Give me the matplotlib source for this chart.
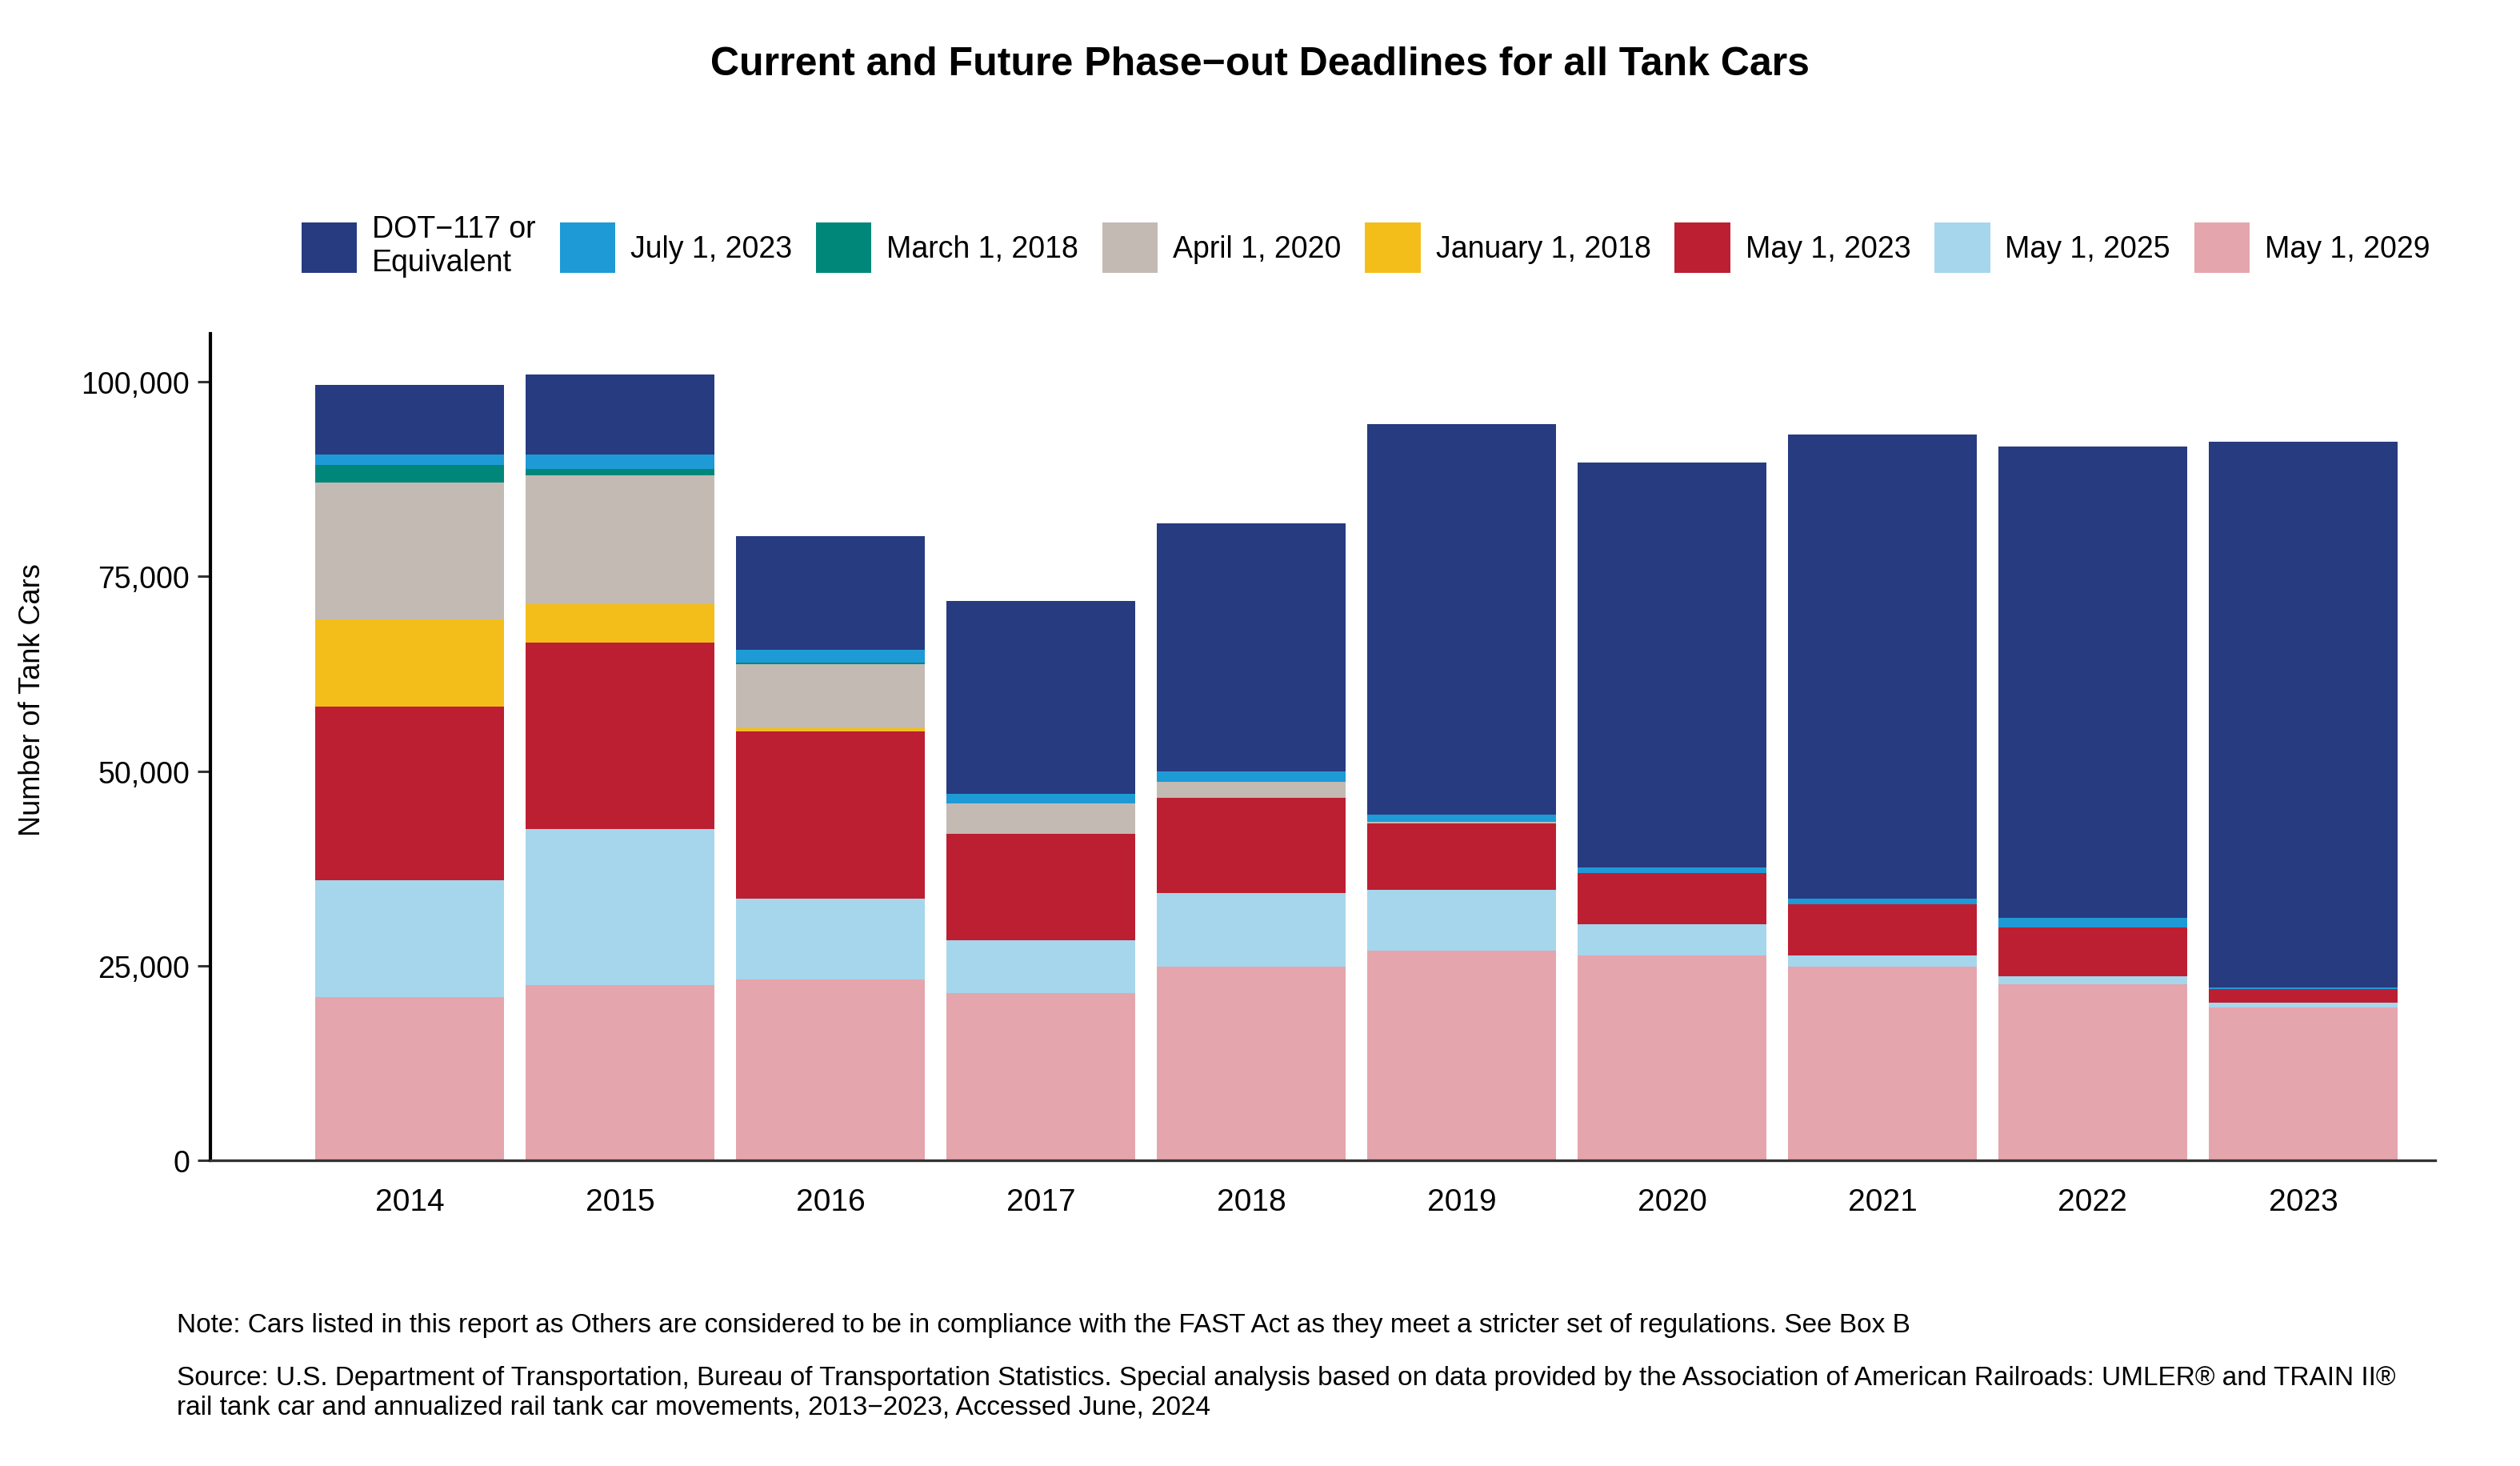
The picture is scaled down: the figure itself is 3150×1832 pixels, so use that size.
import numpy as np
import matplotlib
matplotlib.use("Agg")
import matplotlib.pyplot as plt

plt.rcParams["font.family"] = ["Liberation Sans", "DejaVu Sans"]

years = ["2014", "2015", "2016", "2017", "2018", "2019", "2020", "2021", "2022", "2023"]

# segment counts per deadline, bottom of the stack first
may_2029 = [20970, 22480, 23200, 21470, 24930, 26950, 26370, 24930, 22620, 19670]
may_2025 = [14980, 20100, 10380, 6770, 9440, 7780, 3960, 1370, 1080, 580]
may_2023 = [22340, 23990, 21540, 13760, 12250, 8570, 6560, 6630, 6200, 1800]
jan_2018 = [11170, 4900, 360, 0, 0, 0, 0, 0, 0, 0]
apr_2020 = [17650, 16500, 8280, 3900, 2010, 220, 0, 0, 0, 0]
mar_2018 = [2230, 870, 220, 0, 0, 0, 0, 0, 0, 0]
jul_2023 = [1370, 1870, 1660, 1150, 1370, 940, 720, 720, 1230, 210]
dot_117 = [8940, 10230, 14550, 24800, 31850, 50090, 52020, 59580, 60520, 70040]

series = [
    ("May 1, 2029", may_2029, "#E5A5AC"),
    ("May 1, 2025", may_2025, "#A6D6EC"),
    ("May 1, 2023", may_2023, "#BC1F32"),
    ("January 1, 2018", jan_2018, "#F4BE1A"),
    ("April 1, 2020", apr_2020, "#C3BAB3"),
    ("March 1, 2018", mar_2018, "#00877A"),
    ("July 1, 2023", jul_2023, "#1E9AD6"),
    ("DOT\u2212117 or\nEquivalent", dot_117, "#273B80"),
]

fig = plt.figure(figsize=(15.75, 9.165), dpi=200)
ax = fig.add_axes([0.0835, 0.2083, 0.8827, 0.5637])

x = np.arange(len(years))
bottom = np.zeros(len(years))
handles = []
for label, vals, color in series:
    vals = np.array(vals, dtype=float)
    h = ax.bar(x, vals, width=0.9, bottom=bottom, color=color, linewidth=0, label=label)
    handles.append(h)
    bottom += vals

ax.set_xlim(-0.947, 9.626)
ax.set_ylim(0, 106200)
ax.set_xticks(x)
ax.set_xticklabels(years)
ax.set_yticks([0, 25000, 50000, 75000, 100000])
ax.set_yticklabels(["0", "25,000", "50,000", "75,000", "100,000"])
ax.tick_params(axis="x", length=0, pad=12, labelsize=14)
ax.tick_params(axis="y", length=5.8, width=1.1, color="#333333", pad=3.5, labelsize=13.5)

for side in ["top", "right"]:
    ax.spines[side].set_visible(False)
ax.spines["left"].set_linewidth(1.5)
ax.spines["left"].set_color("black")
ax.spines["bottom"].set_linewidth(1.2)
ax.spines["bottom"].set_color("#333333")

fig.text(0.0128, 0.523, "Number of Tank Cars", rotation=90, ha="center", va="center", fontsize=13)

fig.text(0.5, 0.956, "Current and Future Phase\u2212out Deadlines for all Tank Cars",
         ha="center", va="center", fontsize=18, fontweight="bold")

fig.legend(handles=handles[::-1], loc="center", bbox_to_anchor=(0.542, 0.832), ncol=8,
           frameon=False, fontsize=13.5, handlelength=1.85, handleheight=2.2,
           handletextpad=0.5, columnspacing=0.8)

fig.text(0.0702, 0.0965,
         "Note: Cars listed in this report as Others are considered to be in compliance with the "
         "FAST Act as they meet a stricter set of regulations. See Box B",
         ha="left", va="center", fontsize=12)
fig.text(0.0702, 0.0603,
         "Source: U.S. Department of Transportation, Bureau of Transportation Statistics. Special "
         "analysis based on data provided by the Association of American Railroads: UMLER\u00ae and TRAIN II\u00ae",
         ha="left", va="center", fontsize=12)
fig.text(0.0702, 0.0406,
         "rail tank car and annualized rail tank car movements, 2013\u22122023, Accessed June, 2024",
         ha="left", va="center", fontsize=12)

fig.savefig("out.png", dpi=200)
